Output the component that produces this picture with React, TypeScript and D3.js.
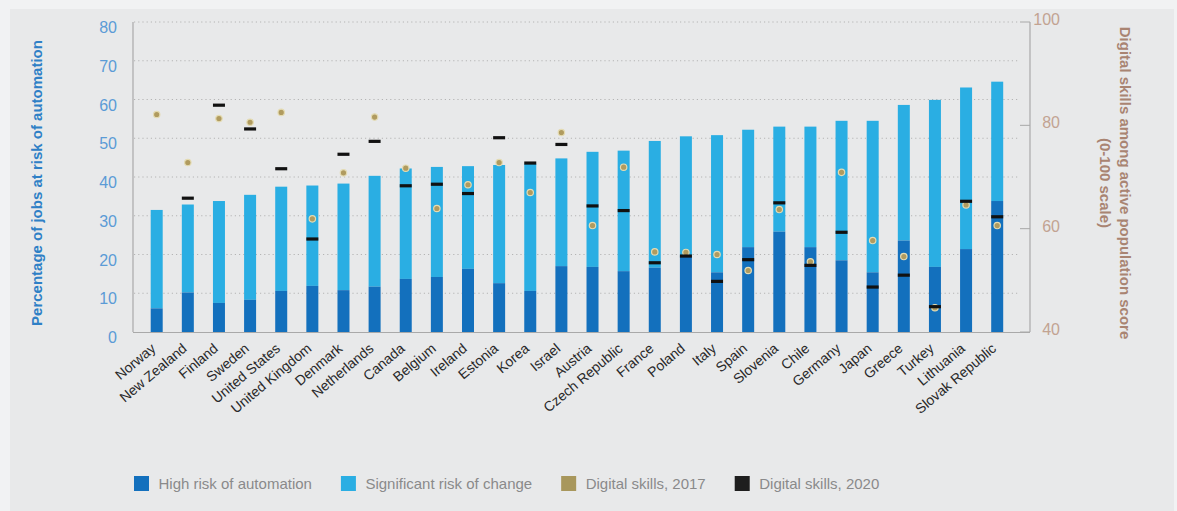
import React from "react";
import * as d3 from "d3";

const countries = [
  "Norway", "New Zealand", "Finland", "Sweden", "United States", "United Kingdom",
  "Denmark", "Netherlands", "Canada", "Belgium", "Ireland", "Estonia", "Korea",
  "Israel", "Austria", "Czech Republic", "France", "Poland", "Italy", "Spain",
  "Slovenia", "Chile", "Germany", "Japan", "Greece", "Turkey", "Lithuania",
  "Slovak Republic",
];
const highRisk = [6.1, 10.2, 7.5, 8.3, 10.6, 11.9, 10.8, 11.7, 13.7, 14.2, 16.3, 12.6, 10.6, 17.0, 16.8, 15.7, 16.6, 19.5, 15.4, 21.9, 25.9, 21.9, 18.5, 15.4, 23.6, 16.8, 21.4, 33.8];
const significantRisk = [25.4, 22.7, 26.3, 27.1, 26.9, 25.9, 27.5, 28.6, 28.5, 28.4, 26.5, 30.5, 32.8, 27.8, 29.7, 31.1, 32.7, 31.0, 35.4, 30.3, 27.1, 31.1, 36.0, 39.1, 35.0, 43.1, 41.7, 30.8];
const skills2017 = [82.1, 72.8, 81.3, 80.6, 82.5, 61.9, 70.8, 81.6, 71.7, 63.9, 68.5, 72.8, 67.0, 78.6, 60.6, 71.9, 55.5, 55.4, 55.0, 51.9, 63.7, 53.6, 70.9, 57.7, 54.6, 44.7, 64.6, 60.6];
const skills2020: (number | null)[] = [null, 65.9, 83.9, 79.3, 71.6, 58.0, 74.4, 76.9, 68.3, 68.6, 66.8, 77.6, 72.7, 76.3, 64.4, 63.5, 53.4, 54.7, 49.8, 54.0, 65.0, 52.9, 59.3, 48.7, 51.0, 44.9, 65.3, 62.3];
const leftTicks = [0, 10, 20, 30, 40, 50, 60, 70, 80];
const rightTicks = [40, 60, 80, 100];
const legendLabels = ["High risk of automation", "Significant risk of change", "Digital skills, 2017", "Digital skills, 2020"];
const legendColors = ["#1370bd", "#2aaee3", "#a8975c", "#1e1e1e"];

const W = 1177;
const H = 511;
const FONT = "'Liberation Sans', Arial, Helvetica, sans-serif";

function measure(text: string, size: number): number {
  if (typeof document === "undefined") return text.length * size * 0.5;
  const c = document.createElement("canvas").getContext("2d");
  if (!c) return text.length * size * 0.5;
  c.font = `${size}px 'Liberation Sans', Arial, sans-serif`;
  return c.measureText(text).width;
}

export default function App() {
  const x = d3.scalePoint<string>().domain(countries).range([156.7, 997.2]);
  const y = d3.scaleLinear().domain([0, 80]).range([332, 22]);
  const yR = d3.scaleLinear().domain([40, 100]).range([332, 22]);
  const barW = 12;

  const legendPos: number[] = [];
  let lx = 134;
  legendLabels.forEach((l) => {
    legendPos.push(lx);
    lx += 24.5 + measure(l, 15) + 29;
  });

  return (
    <svg width={W} height={H} style={{ position: "absolute", left: 0, top: 0 }} fontFamily={FONT}>
      <rect x={0} y={0} width={W} height={H} fill="#f1f2f3" />
      <rect x={10} y={9} width={1164} height={H - 9} fill="#e8e9ea" />

      {leftTicks.filter((t) => t > 0).map((t) => (
        <line key={t} x1={134} x2={1020} y1={y(t)} y2={y(t)} stroke="#b4b4b4" strokeWidth={1} strokeDasharray="1.2,3" />
      ))}

      {leftTicks.map((t) => (
        <text key={t} x={117} y={y(t) + 11} textAnchor="end" fontSize={16} fill="#5b9bd6">{t}</text>
      ))}

      {rightTicks.map((t) => (
        <g key={t}>
          <line x1={1020} x2={1030} y1={yR(t)} y2={yR(t)} stroke="#a8a8a8" strokeWidth={1} />
          <text x={1060} y={yR(t) + 3} textAnchor="end" fontSize={16} fill="#c2a392">{t}</text>
        </g>
      ))}

      {countries.map((c, i) => {
        const cx = x(c)!;
        const hi = highRisk[i];
        const tot = hi + significantRisk[i];
        return (
          <g key={c}>
            <rect x={cx - barW / 2} y={y(tot)} width={barW} height={y(hi) - y(tot)} fill="#2aaee3" />
            <rect x={cx - barW / 2} y={y(hi)} width={barW} height={y(0) - y(hi)} fill="#1370bd" />
          </g>
        );
      })}

      <line x1={133} x2={133} y1={22} y2={332} stroke="#a9a9a9" strokeWidth={1.2} />
      <line x1={133} x2={1030} y1={332.5} y2={332.5} stroke="#a9a9a9" strokeWidth={1.2} />
      <line x1={1030} x2={1030} y1={22} y2={332} stroke="#a9a9a9" strokeWidth={1.2} />

      {countries.map((c, i) => (
        <circle key={c} cx={x(c)!} cy={yR(skills2017[i])} r={3.2} fill="#b09b5f" stroke="#e4dbb2" strokeWidth={1.2} />
      ))}
      {countries.map((c, i) =>
        skills2020[i] == null ? null : (
          <rect key={c} x={x(c)! - 6} y={yR(skills2020[i] as number) - 1.6} width={12} height={3.2} fill="#111" />
        )
      )}

      {countries.map((c) => (
        <text key={c} transform={`translate(${x(c)},350) rotate(-40)`} textAnchor="end" fontSize={14} fill="#2a2a2a">{c}</text>
      ))}

      <text transform={`translate(42,183) rotate(-90)`} textAnchor="middle" fontSize={15} fontWeight="bold" fill="#2f80c6">
        Percentage of jobs at risk of automation
      </text>
      <text transform={`translate(1120,183) rotate(90)`} textAnchor="middle" fontSize={15} fontWeight="bold" fill="#a98472">
        Digital skills among active population score
      </text>
      <text transform={`translate(1100,183) rotate(90)`} textAnchor="middle" fontSize={15} fontWeight="bold" fill="#a98472">
        (0-100 scale)
      </text>

      {legendLabels.map((l, i) => (
        <g key={l} transform={`translate(${legendPos[i]},476)`}>
          <rect x={0} y={0} width={15} height={15} fill={legendColors[i]} />
          <text x={24.5} y={12.5} fontSize={15} fill="#8a8a8a">{l}</text>
        </g>
      ))}
    </svg>
  );
}
